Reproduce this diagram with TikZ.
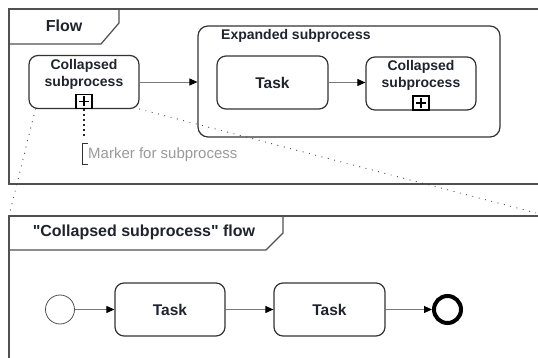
\documentclass[tikz,border=0pt]{standalone}
\usepackage{fontspec}
\setmainfont{Liberation Sans}[Ligatures=TeXOff]
\usetikzlibrary{arrows.meta}
\definecolor{ink}{HTML}{20222E}
\definecolor{edge}{HTML}{333333}
\definecolor{framegray}{HTML}{505050}
\definecolor{flowgray}{HTML}{7A7A7A}
\definecolor{notegray}{HTML}{9A9A9A}
\begin{document}
\begin{tikzpicture}[x=1pt,y=-1pt,
  frameline/.style={draw=framegray, line width=1.2pt},
  ttl/.style={font=\bfseries\fontsize{16}{19}\selectfont, text=ink, inner sep=0pt},
  lbl/.style={font=\bfseries\fontsize{14}{17}\selectfont, text=ink, align=center, inner sep=0pt},
  activity/.style={draw=edge, line width=1.2pt, rounded corners=9pt,
    minimum width=110pt, minimum height=53pt, inner sep=0pt, text=ink,
    font=\bfseries\fontsize{15.5}{18}\selectfont},
  submarker/.style={draw=black, line width=1.2pt, minimum width=16pt,
    minimum height=14pt, inner sep=0pt, anchor=south,
    path picture={
      \draw[line width=1.7pt, black]
        (path picture bounding box.center) +(-5,0) -- +(5,0)
        (path picture bounding box.center) +(0,-5) -- +(0,5);}},
  seqflow/.style={draw=flowgray, line width=0.9pt,
    -{Triangle[length=8pt,width=7pt,color=black]}},
  startev/.style={circle, draw=framegray, line width=0.8pt, minimum size=29pt, inner sep=0pt},
  endev/.style={circle, draw=black, line width=4pt, minimum size=27pt, inner sep=0pt},
  zoomline/.style={draw=black!75, line width=1.2pt, dash pattern=on 0pt off 6.5pt, line cap=round},
  thickdots/.style={draw=black!85, line width=2.6pt, dash pattern=on 2.4pt off 2.6pt},
  note/.style={font=\fontsize{15}{18}\selectfont, text=notegray, inner sep=0pt, anchor=west},
  bracketline/.style={draw=edge, line width=1pt}]

\useasboundingbox (0,0) rectangle (538,358);

% pool frames, open to the right and bottom
\begin{scope}
  \clip (0,0) rectangle (538,358);
  \draw[frameline] (560,9) -- (9,9) -- (9,184) -- (560,184);
  \draw[frameline] (560,216) -- (9,216) -- (9,380);
\end{scope}

% frame name tabs
\draw[frameline] (9,44) -- (101,44) -- (119,23) -- (119,9);
\draw[frameline] (9,250) -- (266,250) -- (283,233) -- (283,216);
\node[ttl] (flowttl) at (64,26) {Flow};
\node[ttl] (subttl) at (144,232) {"Collapsed subprocess" flow};

% upper flow
\node[activity] (cp) at (84,82) {};
\node[lbl] (cptxt) at (84,74.5) {Collapsed\\subprocess};
\node[submarker] (cpm) at (cp.south) {};

\node[activity, minimum width=302pt, minimum height=111pt, rounded corners=10pt] (exp) at (349,81.5) {};
\node[lbl, anchor=west] (exptxt) at (221,36) {Expanded subprocess};
\node[activity, minimum width=111pt] (t0) at (272.5,82.5) {Task};
\node[activity] (cp2) at (421,83.5) {};
\node[lbl] (cp2txt) at (421,75) {Collapsed\\subprocess};
\node[submarker] (cp2m) at (cp2.south) {};

\draw[seqflow] (cp.east) -- (cp.east -| exp.west);
\draw[seqflow] (t0.east) -- (t0.east -| cp2.west);

% annotation of the subprocess marker
\coordinate (annTop) at (84,137);
\draw[thickdots] (cpm.south) -- (annTop);
\draw[bracketline] (88,144) -- (82,144) -- (82,165) -- (88,165);
\node[note] (ann) at (88,155) {Marker for subprocess};

% zoom lines towards the detailed flow
\coordinate (lowL) at (10,212);
\coordinate (lowR) at (540,214);
\draw[zoomline] ([xshift=7pt]cp.south west) -- (lowL);
\draw[zoomline] (cp.south east) -- (lowR);

% lower flow
\node[startev] (s) at (60,309.5) {};
\node[activity] (t1) at (170,309.5) {Task};
\node[activity, minimum width=111pt] (t2) at (329.5,309.5) {Task};
\node[endev] (e) at (447.5,309.5) {};

\draw[seqflow] (s) -- (t1);
\draw[seqflow] (t1) -- (t2);
\draw[seqflow] (t2) -- (e);
\end{tikzpicture}
\end{document}
